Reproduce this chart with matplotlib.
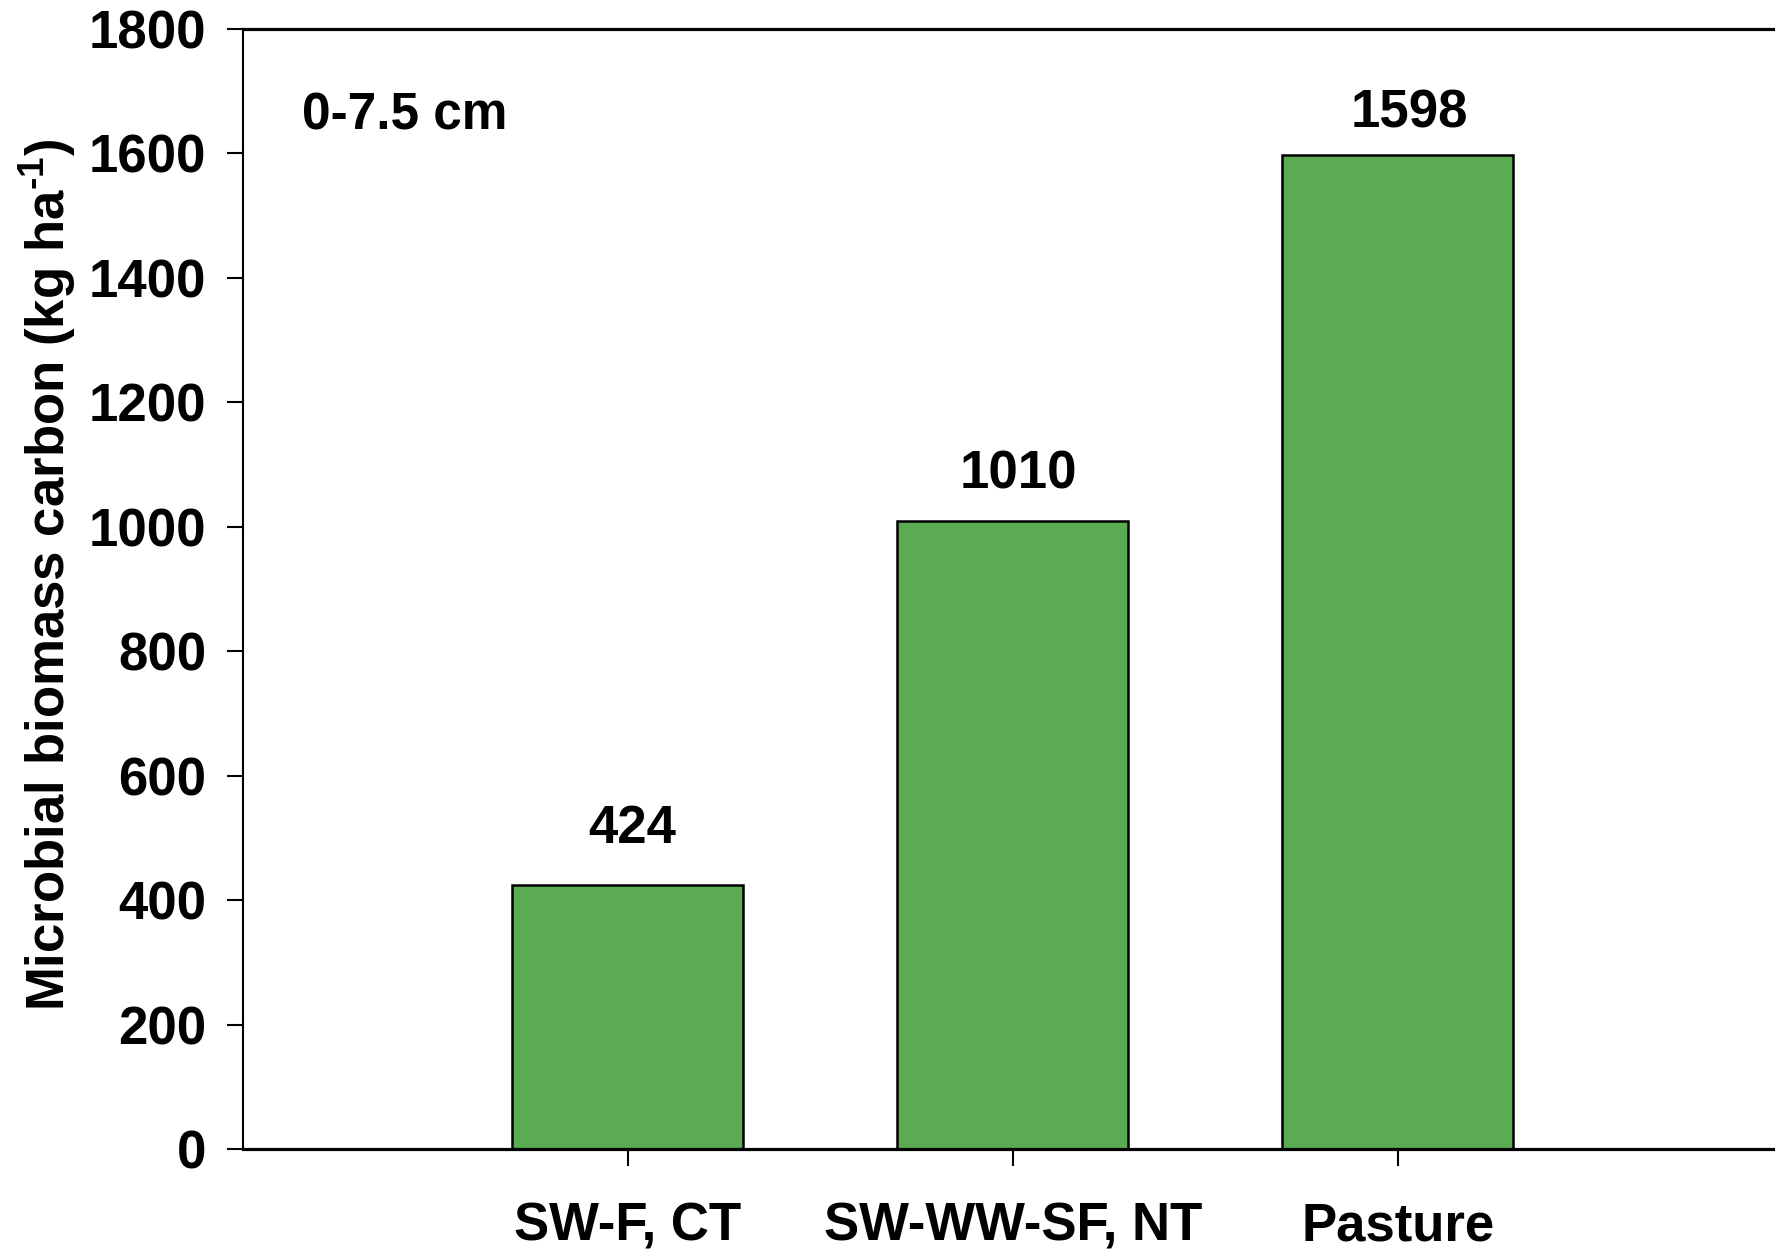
import matplotlib
matplotlib.use('Agg')
import matplotlib.pyplot as plt

plt.rcParams['font.family'] = ['Liberation Sans', 'DejaVu Sans']
plt.rcParams['font.weight'] = 'bold'
plt.rcParams['mathtext.fontset'] = 'custom'
plt.rcParams['mathtext.rm'] = 'Liberation Sans:bold'
plt.rcParams['mathtext.bf'] = 'Liberation Sans:bold'

categories = ['SW-F, CT', 'SW-WW-SF, NT', 'Pasture']
mbc = [424, 1010, 1598]
yticks = [0, 200, 400, 600, 800, 1000, 1200, 1400, 1600, 1800]

# label offsets from bar tops / centres (data units)
label_pad = [68, 51, 43]
label_dx = [0.01, 0.015, 0.03]

fig = plt.figure(figsize=(17.75, 12.51), dpi=100)
ax = fig.add_axes([0.1369, 0.0815, 0.8676, 0.8953])

x = range(1, len(categories) + 1)
ax.bar(x, mbc, width=0.6, color='#5BAB52', edgecolor='black', linewidth=1.8)

for xi, v, p, dx in zip(x, mbc, label_pad, label_dx):
    ax.text(xi + dx, v + p, str(v), ha='center', va='baseline', fontsize=38, fontweight='bold')

ax.text(0.153, 1638, '0-7.5 cm', ha='left', va='baseline', fontsize=37, fontweight='bold')

ax.set_xlim(0, 4)
ax.set_ylim(0, 1800)
ax.set_yticks(yticks)
ax.set_yticklabels([str(t) for t in yticks], fontsize=38, fontweight='bold')
ax.set_xticks(list(x))
ax.set_xticklabels(categories, fontsize=38, fontweight='bold',
                   family=['Liberation Sans Narrow', 'Liberation Sans'])

ax.tick_params(axis='y', direction='out', length=11.5, width=1.5, pad=15)
ax.tick_params(axis='x', direction='out', length=12, width=1.5, pad=26)

ax.spines['left'].set_linewidth(1.5)
ax.spines['top'].set_linewidth(2.3)
ax.spines['bottom'].set_linewidth(2.3)
ax.spines['right'].set_linewidth(2.3)

ax.set_ylabel(r'Microbial biomass carbon (kg ha$^{\text{-1}}$)', fontsize=38, fontweight='bold')
ax.yaxis.set_label_coords(-0.107, 0.513)

fig.savefig('out.png', dpi=100)
